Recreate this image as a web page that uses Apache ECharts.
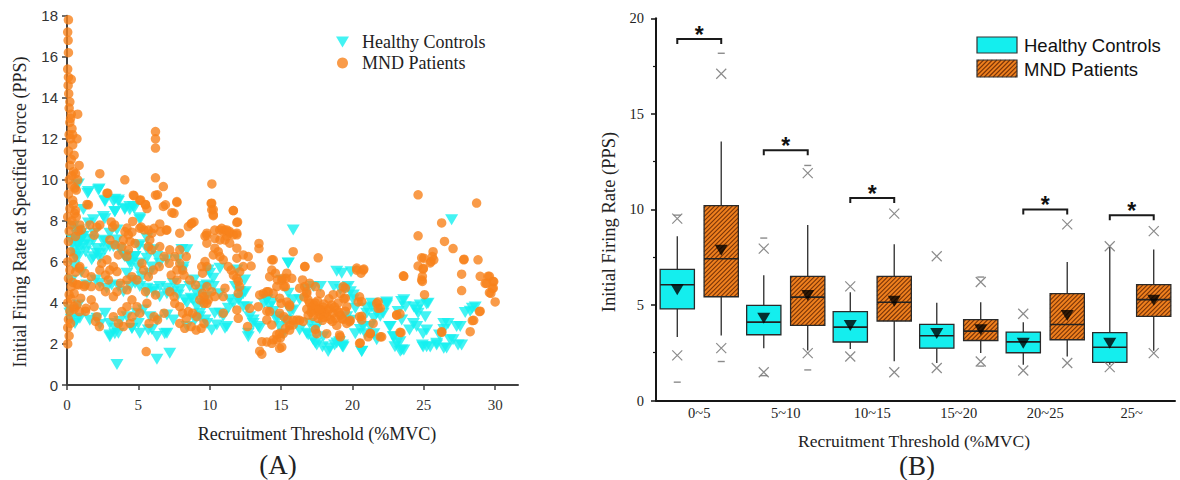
<!DOCTYPE html>
<html><head><meta charset="utf-8">
<script src="https://cdn.jsdelivr.net/npm/echarts@6/dist/echarts.min.js"></script>
<style>html,body{margin:0;padding:0;background:#fff}#c{width:1180px;height:480px}</style>
</head><body><div id="c"></div>
<script>
// ---------- Panel A data: [recruitment threshold %MVC, initial firing rate PPS] ----------
const hcPoints = [
[0.8,9.8],[1.45,9.35],[2.25,9.55],[2.65,9.0],[3.35,9.05],[3.6,8.95],[3.35,8.45],[4.05,8.55],[4.4,8.7],[4.7,8.6],[5.1,8.15],[1.15,8.55],[5.6,7.15],[2.65,8.1],
[0.33,7.1],[0.68,6.85],[0.9,6.65],[0.55,6.4],[1.15,7.25],[1.4,7.1],[1.0,7.4],[0.8,7.55],[0.33,5.1],[0.68,3.15],[0.2,3.65],
[1.9,7.4],[2.1,6.65],[1.85,6.25],[2.3,6.4],[2.65,7.05],[3.0,7.4],[3.5,7.55],[3.25,6.75],[3.7,6.6],[4.05,6.25],[4.4,5.95],[4.75,6.25],[5.1,5.95],[5.0,6.75],[5.6,6.6],[5.95,5.75],[5.8,5.45],[4.2,5.45],[4.65,5.1],[5.1,4.8],[5.6,4.5],[6.05,4.65],[6.5,4.3],[7.0,4.45],[7.45,4.95],[7.9,4.65],[8.05,6.6],[8.15,5.75],[8.4,4.0],[8.85,4.15],[9.1,4.45],[9.55,4.8],[9.8,4.3],[9.3,3.5],[9.9,5.6],[10.25,4.8],[10.7,4.45],[10.35,3.5],[10.95,3.35],[11.2,2.85],[11.4,4.15],[11.8,4.8],[12.0,4.15],[12.35,4.45],[12.6,3.8],[12.7,2.35],[13.05,3.0],[13.5,2.75],
[3.0,2.35],[3.35,2.5],[3.5,1.0],[6.3,1.25],[7.2,1.55],[6.85,2.5],[5.95,2.7],[4.55,2.75],[5.0,3.0],[2.3,2.95],[1.6,3.15],
[15.85,7.55],[15.5,5.95],[15.05,5.1],[14.35,4.0],[14.0,4.15],[14.7,3.15],[15.15,2.5],[15.4,3.15],[15.85,3.65],[16.3,4.15],[16.8,4.65],[17.25,4.8],[17.75,4.8],[17.4,2.7],[16.9,2.45],[17.4,2.05],[17.95,2.35],[18.4,1.8],[18.9,2.05],[19.35,1.85],[18.9,5.55],[19.15,4.65],[19.7,4.8],[20.05,4.15],[19.85,3.15],[20.2,2.5],[20.65,1.65],[20.55,2.7],[21.0,3.5],[21.35,3.8],[21.95,3.35],[22.4,3.9],[22.65,2.85],[23.1,2.05],[23.35,1.65],[23.6,1.7],[22.9,2.35],[22.4,4.05],[23.6,4.15],[24.3,3.8],[25.2,3.95],[24.5,2.85],[24.95,2.5],[24.6,3.5],[24.95,1.85],[25.45,1.85],[25.9,1.95],[26.6,1.8],[27.05,2.2],[27.65,1.95],[26.7,3.0],[26.4,2.7],[27.55,2.85],[28.25,3.6],[28.6,3.8],[26.95,8.05],[21.5,2.5],[21.7,2.2],[20.9,2.5],
[27.9,3.53],[28.4,3.74],[27.3,2.85],[26.4,3.0],[26.84,2.2],[26.1,2.44],[27.4,1.95],[26.4,1.79],[25.9,2.03],[25.2,1.87],[24.9,1.95],[25.2,2.68],[25.1,3.33],[24.75,3.9],[25.3,3.98],[24.5,3.66],[24.27,3.0],[24.0,2.68],[23.7,3.82],[23.45,4.07],[23.2,3.58],[23.45,3.17],[23.33,2.11],[23.45,1.7],[22.98,1.87],[22.86,2.35],[22.6,2.85],[22.15,3.5],[22.4,3.98],[21.7,3.5],[21.5,3.25],[21.25,2.85],[21.35,3.98],[21.0,3.74],[20.76,2.85],[20.65,1.63],[20.2,3.74],[20.06,4.39],[19.85,4.55],[19.25,5.45],[19.6,3.33],[19.3,1.95],
[15.5,5.93],[19.9,5.52],[18.7,4.8],[19.5,4.72],[14.0,4.15],[13.8,3.98],[14.2,3.82],[14.45,3.58],[14.7,3.33],[14.9,2.85],[15.2,3.17],[15.65,3.58],[15.85,4.15],[15.5,4.47],[16.3,2.68],[16.8,2.52],[17.25,2.2],[17.5,1.95],[17.9,1.87],[18.3,1.63],[18.75,1.95],[19.1,2.11],[19.3,1.87],[17.5,2.85],[17.0,3.0],[12.7,2.52],[13.4,2.85],[13.05,3.17],[12.8,3.33],[12.35,3.82],[12.1,4.23],[11.66,3.98],[11.3,3.74],[10.72,3.5],[10.5,2.93],[11.07,2.76],[10.14,2.68],[9.67,3.17],[9.3,3.33],[10.0,5.45],[10.72,5.69],[10.25,5.2],[11.9,5.6],[12.45,5.12],[12.1,4.55],[12.5,4.55],
[0.68,9.75],[1.5,9.43],[2.2,9.5],[2.66,8.94],[3.25,8.94],[3.6,9.02],[3.36,8.46],[4.06,8.62],[4.4,8.54],[4.65,8.7],[5.1,8.05],[2.55,8.21],[1.5,7.89],[1.85,8.05],[0.56,7.07],[0.9,6.99],[0.44,7.72],[0.8,7.48],[1.03,7.24],[0.56,6.59],[0.8,6.26],[1.5,6.83],[1.85,7.07],[2.08,6.42],[1.73,6.1],[2.3,6.18],[2.66,6.59],[2.55,6.99],[3.0,6.75],[3.5,7.07],[3.95,6.34],[4.3,6.1],[4.55,5.93],[4.77,6.26],[5.0,5.7],[5.1,6.83],[5.6,6.18],[6.05,6.59],[6.3,6.26],[6.5,5.93],[7.0,6.1],[5.25,5.28],[4.77,4.96],[4.42,4.8],[3.95,4.55],[3.6,4.8],[3.13,4.88],[2.78,4.72],[2.3,4.96],[2.0,5.12],[1.38,4.88],[5.6,4.72],[6.05,4.55],[6.5,4.8],[7.0,4.72],[7.45,4.55],[7.8,4.39],[8.25,4.15],[8.7,4.23],[9.1,3.82],[9.45,3.98],[5.35,3.66],[4.9,3.5],[5.8,3.33],[6.3,3.17],[7.0,3.41],[7.45,3.17],[4.2,3.33],[3.7,3.09],[3.0,3.0],[3.0,2.44],[3.36,2.76],[3.6,2.52],[0.9,3.25],[0.56,3.0],[0.2,3.5],[2.1,3.25],[2.66,3.5],[6.3,2.36],[7.0,2.52],[5.1,2.52],[5.7,2.68],[4.55,2.76],[8.1,5.6],[8.4,6.59],[7.8,6.1],[8.6,4.8],[8.9,5.12],[9.3,4.63],[9.8,4.88],[9.8,3.0],[8.4,2.85],[8.97,3.17],
[0.4,6.9],[0.7,7.3],[1.2,6.8],[0.9,7.0],[0.6,6.2],[1.3,6.5],[0.5,5.8],[1.0,5.5],[0.3,3.2],[0.8,3.9]
];
const mndPoints = [
[0.1,17.8],[0.05,17.2],[0.08,16.8],[0.1,16.2],[0.05,15.4],[0.1,15.0],[0.08,14.6],[0.12,14.2],[0.2,13.8],[0.15,13.5],[0.3,13.2],[0.2,12.8],[0.35,12.5],[0.15,12.2],[0.25,12.0],[0.4,11.7],[0.1,11.4],[0.3,11.0],[0.2,10.7],[0.45,10.4],[0.15,10.0],[0.35,9.7],[0.1,9.3],[0.4,9.0],[0.2,8.6],[0.05,8.2],[0.3,7.8],[0.15,7.5],[0.1,7.0],[0.25,6.5],[0.05,6.0],[0.2,5.6],[0.1,5.2],[0.3,4.8],[0.15,4.4],[0.05,4.0],[0.2,3.6],[0.1,3.2],[0.05,2.8],[0.15,2.4],[0.05,2.0],
[0.3,14.9],[0.25,13.0],[0.4,12.2],[0.5,11.2],[0.35,10.2],[0.55,9.6],[0.45,8.8],[0.35,8.0],[0.45,6.2],[0.4,5.0],[0.3,4.2],[0.25,3.0],
[0.75,13.2],[0.7,12.0],[0.85,10.7],[0.6,10.3],[0.75,10.0],[0.65,9.5],[0.6,8.5],[0.65,8.2],[0.9,7.8],[0.8,7.5],[0.85,5.7],[0.6,5.5],[0.7,4.9],[1.2,4.8],[0.7,3.9],[0.5,3.7],[1.3,3.6],
[2.3,10.3],[1.4,8.8],[2.8,9.35],[4.05,10.0],[4.65,9.25],[5.1,9.0],[5.5,8.8],[5.6,8.6],[6.2,12.35],[6.2,12.0],[6.2,11.55],[6.2,10.1],[6.2,9.25],[6.75,9.67],[6.75,8.7],[7.7,8.9],[7.35,8.4],[10.15,9.8],[10.1,8.85],[10.25,8.55],[10.25,8.25],[11.65,8.5],[8.7,7.85],[8.9,7.95],[1.6,7.8],[2.1,7.7],[3.1,7.95],[3.2,7.7],[4.2,7.65],[4.55,7.45],[5.2,7.7],[5.7,7.55],[5.95,7.4],[6.5,7.85],[6.95,7.55],[7.9,7.4],[9.8,7.4],[10.35,7.55],[10.7,7.55],[11.05,7.55],[11.4,7.4],[11.2,7.25],[11.9,7.4],[11.95,7.95],[13.45,6.9],[13.45,6.65],[15.85,6.5],[17.6,6.2],[16.65,5.77],[20.3,5.7],[20.8,5.65],
[24.6,9.27],[24.6,7.27],[24.85,6.2],[24.6,5.8],[24.95,5.65],[24.9,5.3],[24.9,5.05],[25.05,4.4],[26.25,7.9],[26.45,7.0],[27.05,6.65],[25.7,6.1],[25.65,6.5],[25.45,5.95],[27.8,6.1],[28.7,8.87],[28.8,6.1],[27.65,5.4],[27.65,4.6],[28.95,5.3],[29.6,5.3],[29.3,4.95],[29.85,5.05],[29.8,4.7],[29.6,4.5],[30.0,4.05],[28.95,3.6],[28.5,3.15],[28.25,2.6],[26.25,2.6],[23.6,5.3],[23.4,2.55],[23.1,3.4],
[13.5,1.65],[13.65,1.5],[14.0,2.1],[14.45,2.2],[14.7,2.45],[14.95,2.3],[15.05,1.85],[15.15,2.5],[15.3,2.75],[15.6,2.9],[15.85,3.15],[16.3,3.15],[16.55,3.1],[14.0,3.6],[13.75,4.45],[14.1,4.55],[14.7,4.8],[15.05,5.1],[14.6,5.45],[14.35,6.1],[15.35,5.2],[15.4,4.05],[15.6,3.9],[15.3,4.8],
[16.65,4.8],[16.8,4.45],[16.9,4.15],[17.0,4.0],[17.15,3.8],[17.25,3.65],[17.4,4.0],[17.5,3.75],[17.6,3.6],[17.75,3.4],[17.85,3.65],[17.95,3.8],[18.1,3.5],[18.2,3.35],[18.3,3.65],[18.45,3.2],[18.55,3.9],[18.65,3.5],[18.8,3.25],[18.9,3.65],[19.0,4.0],[19.15,3.4],[19.35,3.2],[19.5,3.6],[19.6,3.0],[19.35,4.8],[19.15,4.45],[18.65,4.4],[17.75,4.45],[17.4,4.8],[17.6,3.25],[17.25,3.35],[16.9,3.4],[17.4,2.7],[17.5,2.5],[18.2,2.5],[19.15,2.35],[19.85,3.15],[20.4,4.05],[20.5,4.3],[20.65,3.35],[20.55,2.05],[21.25,2.5],[21.45,3.0],[21.8,4.05],[21.95,3.75],[22.05,2.35],
[17.1,3.55],[17.3,3.9],[17.7,3.7],[18.0,3.3],[18.4,3.75],[18.6,3.1],[18.0,3.95],[17.9,3.15],[18.75,3.8],[19.05,3.55],[17.55,4.1],[16.8,3.7],[16.6,4.3],[18.35,4.2],[18.9,2.9],[19.4,4.2],
[2.86,9.35],[4.7,9.22],[5.16,9.02],[5.5,8.78],[7.7,8.94],[6.34,9.27],[1.5,8.78],[0.54,8.37],[6.9,8.78],[7.5,8.37],[4.6,7.97],[3.34,7.8],[2.3,7.8],[1.0,7.56],[0.6,7.24],[1.9,7.3],[5.1,7.64],[5.4,7.56],[6.1,7.64],[6.55,7.48],[7.0,7.56],[8.75,7.89],[8.5,7.72],[9.8,7.3],[4.06,7.48],[4.3,7.32],[3.95,7.07],[3.0,7.07],[3.37,6.83],[3.84,6.75],[4.42,7.0],[4.77,6.9],[5.8,7.07],[5.7,6.75],[5.93,6.59],[6.5,6.75],[7.2,6.59],[7.55,6.26],[7.9,6.59],[8.36,6.26],[6.8,6.26],[7.16,5.93],[6.46,5.77],[4.3,6.59],[4.2,6.26],[3.6,6.34],[2.8,6.1],[2.43,5.93],[3.25,5.77],[3.5,5.53],[3.0,5.6],[2.7,5.36],[2.3,5.6],[2.9,5.12],[0.9,5.77],[1.25,5.45],[1.7,5.28],[0.8,4.88],[1.25,4.88],[1.7,4.8],[0.5,4.47],[0.96,4.23],[1.7,4.15],[0.5,3.82],[0.87,3.58],[1.33,3.74],[1.9,3.82],[2.1,3.33],[2.0,3.1],[2.27,2.85],[2.3,4.8],[2.7,4.55],[3.25,4.31],[3.5,4.55],[3.75,4.96],[4.2,5.12],[4.55,5.28],[4.9,5.12],[4.2,4.64],[4.55,4.15],[4.2,3.82],[3.84,3.58],[3.25,3.33],[3.6,3.0],[3.95,2.85],[4.42,3.0],[4.55,3.33],[5.1,3.5],[4.9,3.82],[5.5,4.55],[5.7,5.28],[6.05,5.6],[5.37,5.6],[5.25,5.93],[6.2,4.39],[5.6,3.98],[6.1,3.33],[6.34,3.17],[5.75,3.0],[6.8,3.5],[7.2,4.55],[7.5,4.31],[7.55,3.98],[7.9,3.82],[8.1,3.5],[8.36,3.25],[7.9,3.0],[8.25,2.76],[8.7,2.85],[9.05,2.68],[9.4,2.76],[9.1,3.33],[8.8,3.5],[8.5,3.58],[9.3,4.15],[9.8,3.98],[9.5,4.47],[9.0,4.88],[8.6,5.12],[7.7,5.12],[7.3,5.36],[7.7,5.6],[8.1,5.6],[7.9,5.93],[8.2,5.36],[9.8,5.77],[9.5,5.45],[5.55,1.63],
[10.14,8.86],[10.14,8.54],[10.25,8.3],[11.66,8.5],[11.9,7.92],[9.67,7.26],[9.8,6.91],[10.36,7.15],[10.84,7.64],[10.95,7.48],[11.2,7.56],[11.4,7.48],[11.66,7.32],[11.9,7.32],[10.72,7.07],[11.07,7.07],[11.4,6.91],[10.36,6.67],[10.6,6.5],[10.25,6.34],[10.72,6.26],[10.95,6.1],[11.3,5.77],[11.5,5.6],[11.66,5.36],[11.9,5.2],[12.0,5.04],[12.1,5.52],[11.9,6.18],[11.9,6.67],[12.35,6.34],[12.7,6.26],[12.9,5.8],[12.35,5.77],[12.1,4.8],[12.0,4.47],[9.44,5.77],[9.67,6.02],[9.8,4.8],[10.14,4.55],[10.36,4.31],[9.6,4.31],[9.6,3.98],[9.9,4.15],[10.95,4.31],[11.07,4.72],[10.95,3.5],[9.6,3.0],[11.9,3.66],[12.0,3.25],
[14.45,6.1],[14.35,5.6],[14.2,5.28],[14.75,5.12],[15.1,5.2],[15.4,5.45],[15.75,5.2],[15.2,4.8],[14.9,4.23],[15.0,3.98],[14.45,4.47],[14.0,4.55],[13.5,4.39],[13.4,3.82],[14.2,3.58],[14.0,3.17],[14.35,2.93],[14.9,3.5],[15.2,3.33],[15.6,3.82],[15.45,3.17],[14.9,2.52],[14.7,2.2],[14.35,2.03],[13.65,2.11],[14.9,1.79],[15.6,2.68],[15.85,2.93],[16.1,3.17],[16.68,5.77],[12.8,3.74],[12.65,2.85],[16.3,4.72],[16.5,5.12],[16.8,4.55],[17.0,4.96],
[25.6,6.26],[25.5,6.02],[25.0,6.18],[24.97,5.69],[24.85,5.12],[23.57,5.32],[27.82,6.13],[29.5,5.3],[29.4,4.96],[29.9,5.04],[29.87,4.72],[29.7,4.47],[28.9,3.58],[28.4,3.14],[26.26,2.57],[20.3,5.6],[20.76,5.6],[20.6,5.45],[19.5,4.72],[19.5,4.23],[19.6,3.82],[19.25,3.25],[19.8,3.09],[20.65,4.07],[20.5,3.33],[20.65,3.17],[21.7,3.98],[21.8,3.74],[23.1,3.42],[23.33,3.47],[21.95,2.35],[21.25,2.52],[21.1,2.35],[20.5,2.03],[23.33,2.57],[19.1,2.44]
];
const xTicksA = [0, 5, 10, 15, 20, 25, 30];

// ---------- Panel B data ----------
const categories = ['0~5', '5~10', '10~15', '15~20', '20~25', '25~'];
// [lower whisker, Q1, median, Q3, upper whisker]
const hcBox  = [[3.32,4.79,6.06,6.86,8.6],[2.74,3.44,4.1,4.98,6.55],[2.7,3.06,3.84,4.65,5.66],[1.96,2.74,3.39,3.98,5.12],[1.87,2.5,3.07,3.58,4.09],[1.87,1.99,2.79,3.55,8.03]];
const mndBox = [[3.4,5.43,7.42,10.2,13.55],[2.62,3.93,5.41,6.5,9.19],[2.06,4.16,5.14,6.5,8.17],[2.48,3.14,3.63,4.23,5.14],[2.3,3.18,3.98,5.59,7.25],[2.6,4.4,5.28,6.06,7.9]];
const hcMean  = [5.8, 4.3, 3.93, 3.5, 3.0, 3.0];
const mndMean = [7.86, 5.5, 5.19, 3.7, 4.45, 5.25];
const hcOutliers  = [[9.52,2.36],[7.95,1.48],[5.97,2.3],[7.55,1.7],[4.54,1.57],[8.07,1.75]];
const mndOutliers = [[17.1,2.74],[11.9,2.48],[9.78,1.48],[6.2,2.04],[9.22,1.96],[8.86,2.48]];
const hcExtremes  = [[9.7,0.96],[8.5,1.3],[],[],[],[]];
const mndExtremes = [[18.17,2.04],[12.3,1.6],[],[6.46,1.8],[],[]];
const sigCategories = [0, 1, 2, 4, 5];
const sigLevels = [18.92, 13.1, 10.6, 10.0, 9.7];

// ---------- Styling ----------
const SERIF = '"Liberation Serif", "Times New Roman", serif';
const SANS = '"Liberation Sans", Arial, sans-serif';
const CYAN = '#14f0f0', ORANGE = '#f8821c';
const BOX_CYAN = '#14eeee', BOX_ORANGE = '#ef801e', HATCH = '#7a3408';
const OFF = 0.254, HALF = 0.198; // box offset & half width as fraction of band
const TRI = 'path://M0,0L12,0L6,10Z';
const XMARK = 'path://M0,0L10,10M10,0L0,10';

function hatchLines(x0, y0, w, h, step, style) {
  const out = [];
  for (let k = x0 + y0 + step * 0.5; k < x0 + w + y0 + h; k += step) {
    const xa = Math.max(x0, k - (y0 + h));
    const xb = Math.min(x0 + w, k - y0);
    if (xb > xa) out.push({ type: 'line', shape: { x1: xa, y1: k - xa, x2: xb, y2: k - xb }, style: style });
  }
  return out;
}
const hatchStyle = { stroke: HATCH, lineWidth: 1.1 };

function boxRenderer(side, hatched) {
  return function (params, api) {
    const ci = api.value(0);
    const bw = api.size([1, 0])[0];
    const pm = api.coord([ci, api.value(3)]);
    const cx = pm[0] + side * OFF * bw;
    const hw = HALF * bw;
    const yLow = api.coord([ci, api.value(1)])[1];
    const yQ1 = api.coord([ci, api.value(2)])[1];
    const yQ3 = api.coord([ci, api.value(4)])[1];
    const yHigh = api.coord([ci, api.value(5)])[1];
    const ls = { stroke: '#2a2a2a', lineWidth: 1.3 };
    let ch = [
      { type: 'line', shape: { x1: cx, y1: yHigh, x2: cx, y2: yQ3 }, style: ls },
      { type: 'line', shape: { x1: cx, y1: yQ1, x2: cx, y2: yLow }, style: ls },
      { type: 'rect', shape: { x: cx - hw, y: yQ3, width: 2 * hw, height: yQ1 - yQ3 }, style: { fill: hatched ? BOX_ORANGE : BOX_CYAN } }
    ];
    if (hatched) ch = ch.concat(hatchLines(cx - hw, yQ3, 2 * hw, yQ1 - yQ3, 4.4, hatchStyle));
    ch.push({ type: 'rect', shape: { x: cx - hw, y: yQ3, width: 2 * hw, height: yQ1 - yQ3 }, style: { fill: 'none', stroke: '#2a2a2a', lineWidth: 1.3 } });
    ch.push({ type: 'line', shape: { x1: cx - hw, y1: pm[1], x2: cx + hw, y2: pm[1] }, style: { stroke: '#222', lineWidth: 1.6 } });
    return { type: 'group', children: ch };
  };
}

function bracketRenderer(params, api) {
  const ci = api.value(0);
  const bw = api.size([1, 0])[0];
  const p = api.coord([ci, api.value(1)]);
  const x1 = p[0] - OFF * bw, x2 = p[0] + OFF * bw;
  return {
    type: 'group', children: [
      { type: 'polyline', shape: { points: [[x1, p[1] + 5], [x1, p[1]], [x2, p[1]], [x2, p[1] + 5]] }, style: { stroke: '#1a1a1a', lineWidth: 2, fill: 'none' } },
      { type: 'text', x: p[0], y: p[1] - 4, style: { text: '*', font: 'bold 23px ' + SANS, fill: '#111', align: 'center', verticalAlign: 'middle', textAlign: 'center', textVerticalAlign: 'middle' } }
    ]
  };
}

const boxData = arr => arr.map((b, i) => [i].concat(b));
const catPoints = arr => { const out = []; arr.forEach((vals, i) => vals.forEach(v => out.push([i, v]))); return out; };

// Right legend (graphic)
const legB = [
  { type: 'rect', shape: { x: 977, y: 37, width: 40, height: 16 }, style: { fill: BOX_CYAN, stroke: '#333', lineWidth: 1.2 } },
  { type: 'rect', shape: { x: 977, y: 60, width: 40, height: 17 }, style: { fill: BOX_ORANGE } }
].concat(hatchLines(977, 60, 40, 17, 4.4, hatchStyle)).concat([
  { type: 'rect', shape: { x: 977, y: 60, width: 40, height: 17 }, style: { fill: 'none', stroke: '#333', lineWidth: 1.2 } },
  { type: 'text', x: 1024, y: 45, style: { text: 'Healthy Controls', font: '18.5px ' + SANS, fill: '#111', align: 'left', verticalAlign: 'middle', textAlign: 'left', textVerticalAlign: 'middle' } },
  { type: 'text', x: 1024, y: 69, style: { text: 'MND Patients', font: '18.5px ' + SANS, fill: '#111', align: 'left', verticalAlign: 'middle', textAlign: 'left', textVerticalAlign: 'middle' } }
]);

function txt(x, y, text, font, rot) {
  const o = { type: 'text', x: x, y: y, style: { text: text, font: font, fill: '#222', align: 'center', verticalAlign: 'middle', textAlign: 'center', textVerticalAlign: 'middle' } };
  if (rot) o.rotation = rot;
  return o;
}

const chart = echarts.init(document.getElementById('c'), null, { renderer: 'svg' });
chart.setOption({
  animation: false,
  backgroundColor: '#fff',
  grid: [
    { left: 67, top: 15.7, width: 451, height: 369.3 },
    { left: 656, top: 18.3, width: 519, height: 382.2 }
  ],
  legend: {
    left: 336, top: 33, orient: 'vertical', itemWidth: 13, itemHeight: 11, itemGap: 3, padding: 0,
    textStyle: { fontFamily: SERIF, fontSize: 18, color: '#222', lineHeight: 18, padding: [0, 0, 0, 8] },
    data: [{ name: 'Healthy Controls', icon: TRI }, { name: 'MND Patients', icon: 'circle' }]
  },
  xAxis: [
    {
      gridIndex: 0, type: 'value', min: 0, max: 31.6, interval: 5,
      axisLine: { lineStyle: { color: '#404040', width: 2 } },
      axisTick: { show: true, length: 5, customValues: xTicksA, lineStyle: { color: '#404040', width: 1.5 } },
      axisLabel: { customValues: xTicksA, margin: 12, fontFamily: SERIF, fontSize: 15, color: '#333',
        formatter: v => (xTicksA.indexOf(v) >= 0 ? String(v) : '') },
      splitLine: { show: false }
    },
    {
      gridIndex: 1, type: 'category', data: categories, boundaryGap: true,
      axisLine: { lineStyle: { color: '#151515', width: 2 } },
      axisTick: { show: false },
      axisLabel: { margin: 5, fontFamily: SERIF, fontSize: 14.5, color: '#222' },
      splitLine: { show: false }
    }
  ],
  yAxis: [
    {
      gridIndex: 0, type: 'value', min: 0, max: 18, interval: 2,
      axisLine: { show: true, lineStyle: { color: '#404040', width: 2 } },
      axisTick: { show: true, length: 5, lineStyle: { color: '#404040', width: 1.5 } },
      axisLabel: { margin: 9, fontFamily: SANS, fontSize: 15, color: '#333' },
      splitLine: { show: false }
    },
    {
      gridIndex: 1, type: 'value', min: 0, max: 20, interval: 5,
      axisLine: { show: true, lineStyle: { color: '#151515', width: 2 } },
      axisTick: { show: true, length: 5, lineStyle: { color: '#151515', width: 1.5 } },
      minorTick: { show: true, splitNumber: 2, length: 3, lineStyle: { color: '#151515', width: 1.2 } },
      axisLabel: { margin: 12, fontFamily: SERIF, fontSize: 14.5, color: '#222' },
      splitLine: { show: false }, minorSplitLine: { show: false }
    }
  ],
  graphic: [
    txt(20, 212, 'Initial Firing Rate at Specified Force (PPS)', '18px ' + SERIF, Math.PI / 2),
    txt(317, 434, 'Recruitment Threshold (%MVC)', '18px ' + SERIF),
    txt(278, 465, '(A)', '27px ' + SERIF),
    txt(609, 222, 'Initial Firing Rate (PPS)', '18.5px ' + SERIF, Math.PI / 2),
    txt(914, 441, 'Recruitment Threshold (%MVC)', '17.5px ' + SERIF),
    txt(917, 466, '(B)', '27px ' + SERIF)
  ].concat(legB),
  series: [
    { name: 'Healthy Controls', type: 'scatter', xAxisIndex: 0, yAxisIndex: 0, data: hcPoints,
      symbol: TRI, symbolSize: [13, 11], itemStyle: { color: CYAN }, z: 2 },
    { name: 'MND Patients', type: 'scatter', xAxisIndex: 0, yAxisIndex: 0, data: mndPoints,
      symbol: 'circle', symbolSize: 9.5, itemStyle: { color: ORANGE }, z: 3 },
    { name: 'Healthy Controls box', type: 'custom', xAxisIndex: 1, yAxisIndex: 1, data: boxData(hcBox),
      encode: { x: 0, y: [1, 2, 3, 4, 5] }, renderItem: boxRenderer(-1, false), z: 2 },
    { name: 'MND Patients box', type: 'custom', xAxisIndex: 1, yAxisIndex: 1, data: boxData(mndBox),
      encode: { x: 0, y: [1, 2, 3, 4, 5] }, renderItem: boxRenderer(1, true), z: 2 },
    { name: 'HC mean', type: 'scatter', xAxisIndex: 1, yAxisIndex: 1, data: hcMean.map((v, i) => [i, v]),
      symbol: TRI, symbolSize: [13, 11], symbolOffset: [-22, 0], itemStyle: { color: '#000' }, z: 4 },
    { name: 'MND mean', type: 'scatter', xAxisIndex: 1, yAxisIndex: 1, data: mndMean.map((v, i) => [i, v]),
      symbol: TRI, symbolSize: [13, 11], symbolOffset: [22, 0], itemStyle: { color: '#000' }, z: 4 },
    { name: 'HC outliers', type: 'scatter', xAxisIndex: 1, yAxisIndex: 1, data: catPoints(hcOutliers),
      symbol: XMARK, symbolSize: 10, symbolOffset: [-22, 0], itemStyle: { color: 'rgba(0,0,0,0)', borderColor: '#6e6e6e', borderWidth: 1.2 }, z: 4 },
    { name: 'MND outliers', type: 'scatter', xAxisIndex: 1, yAxisIndex: 1, data: catPoints(mndOutliers),
      symbol: XMARK, symbolSize: 10, symbolOffset: [22, 0], itemStyle: { color: 'rgba(0,0,0,0)', borderColor: '#6e6e6e', borderWidth: 1.2 }, z: 4 },
    { name: 'HC extremes', type: 'scatter', xAxisIndex: 1, yAxisIndex: 1, data: catPoints(hcExtremes),
      symbol: 'rect', symbolSize: [7, 1.4], symbolOffset: [-22, 0], itemStyle: { color: '#6e6e6e' }, z: 4 },
    { name: 'MND extremes', type: 'scatter', xAxisIndex: 1, yAxisIndex: 1, data: catPoints(mndExtremes),
      symbol: 'rect', symbolSize: [7, 1.4], symbolOffset: [22, 0], itemStyle: { color: '#6e6e6e' }, z: 4 },
    { name: 'Significance', type: 'custom', xAxisIndex: 1, yAxisIndex: 1,
      data: sigCategories.map((c, i) => [c, sigLevels[i]]), encode: { x: 0, y: 1 }, renderItem: bracketRenderer, z: 5 }
  ]
});
</script>
</body></html>
